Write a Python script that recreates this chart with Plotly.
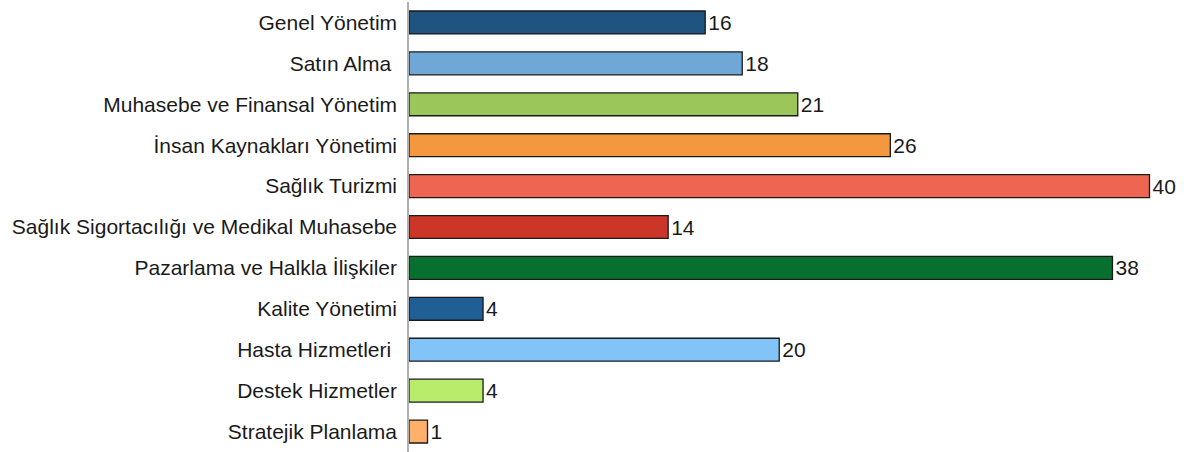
import plotly.graph_objects as go

categories = [
    "Genel Yönetim",
    "Satın Alma\u00a0",
    "Muhasebe ve Finansal Yönetim",
    "İnsan Kaynakları Yönetimi",
    "Sağlık Turizmi",
    "Sağlık Sigortacılığı ve Medikal Muhasebe",
    "Pazarlama ve Halkla İlişkiler",
    "Kalite Yönetimi",
    "Hasta Hizmetleri\u00a0",
    "Destek Hizmetler",
    "Stratejik Planlama",
]
values = [16, 18, 21, 26, 40, 14, 38, 4, 20, 4, 1]
colors = [
    "#1F5380", "#6FA8D7", "#9BC75A", "#F3983F", "#EE6652", "#CC3628",
    "#08702F", "#1F5F96", "#82C4F8", "#BAEC6C", "#FFB06A",
]

FONT = "Liberation Sans, Arial, sans-serif"

fig = go.Figure(
    go.Bar(
        y=categories,
        x=values,
        orientation="h",
        marker=dict(color=colors, line=dict(color="#1a1a1a", width=1.3)),
        text=[str(v) for v in values],
        textposition="outside",
        textfont=dict(family=FONT, size=21, color="#1a1a1a"),
        cliponaxis=False,
    )
)

fig.update_layout(
    width=1184,
    height=452,
    margin=dict(l=409, r=16, t=2, b=0),
    paper_bgcolor="white",
    plot_bgcolor="white",
    bargap=0.44,
    showlegend=False,
    font=dict(family=FONT, size=21, color="#1a1a1a"),
    uniformtext=dict(minsize=21, mode="show"),
)
fig.update_xaxes(
    range=[0, 41], showgrid=False, zeroline=False, showticklabels=False,
    showline=False, ticks="",
)
fig.update_yaxes(
    autorange="reversed", showgrid=False, zeroline=False,
    showline=True, linecolor="#b0b0b0", linewidth=1.5,
    ticks="outside", ticklen=6, tickcolor="rgba(0,0,0,0)",
    tickfont=dict(family=FONT, size=21, color="#1a1a1a"),
)

fig.write_html("out.html")
